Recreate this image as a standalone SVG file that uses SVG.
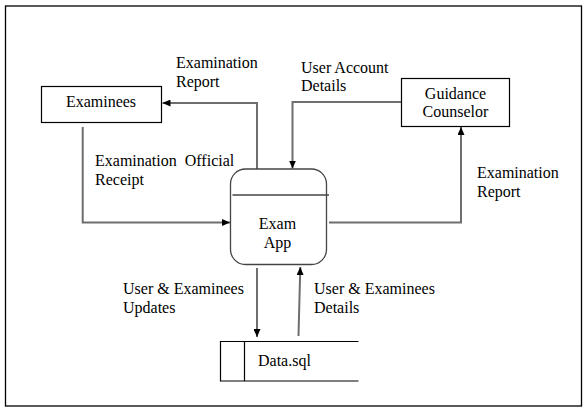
<svg xmlns="http://www.w3.org/2000/svg" width="587" height="411" viewBox="0 0 587 411">
<style>
.t{font-size:16px;fill:#000;white-space:pre}
.box{fill:#fff;stroke:#000;stroke-width:1.2}
.con{fill:none;stroke:#6e6e6e;stroke-width:2}
.mid{text-anchor:middle}
</style>
<defs>
<marker id="ahl" viewBox="0 0 8 8" refX="8" refY="4" markerWidth="8" markerHeight="7" orient="auto" markerUnits="userSpaceOnUse" preserveAspectRatio="none">
<path d="M0,0 L8,4 L0,8 z" fill="#000"/>
</marker>
</defs>
<rect x="5.5" y="6" width="576" height="400" fill="#fff" stroke="#000" stroke-width="1.3"/>
<g font-family="'Liberation Serif', 'Times New Roman', 'DejaVu Serif', serif">
<g id="connectors">
<path class="con" d="M257,169 V103 H162.5" marker-end="url(#ahl)"/>
<path class="con" d="M401,102 H292.5 V168.5" marker-end="url(#ahl)"/>
<path class="con" d="M329,222.5 H461 V127" marker-end="url(#ahl)"/>
<path class="con" d="M82.7,127 V222.5 H230" marker-end="url(#ahl)"/>
<path class="con" d="M257,268 V337" marker-end="url(#ahl)"/>
<path class="con" d="M298.5,336 L300.3,267" marker-end="url(#ahl)"/>
<text class="t" x="176" y="68">Examination</text>
<text class="t" x="176" y="87">Report</text>
<text class="t" x="301" y="73">User Account</text>
<text class="t" x="301" y="91">Details</text>
<text class="t" x="477" y="178">Examination</text>
<text class="t" x="477" y="197">Report</text>
<text class="t" x="95" y="166">Examination  Official</text>
<text class="t" x="95" y="185">Receipt</text>
<text class="t" x="123" y="294">User &amp; Examinees</text>
<text class="t" x="123" y="313">Updates</text>
<text class="t" x="314" y="294">User &amp; Examinees</text>
<text class="t" x="314" y="313">Details</text>
</g>
<g id="examinees">
<rect class="box" x="41.5" y="86.5" width="120" height="36"/>
<text class="t mid" x="101" y="107">Examinees</text>
</g>
<g id="guidance-counselor">
<rect class="box" x="401.5" y="78.5" width="108" height="48"/>
<text class="t mid" x="455.5" y="99">Guidance</text>
<text class="t mid" x="455.5" y="117">Counselor</text>
</g>
<g id="exam-app">
<rect x="230.5" y="169" width="96" height="95.5" rx="15" ry="15" fill="#fff" stroke="#444" stroke-width="1.3"/>
<line x1="232.5" y1="195" x2="329" y2="195" stroke="#444" stroke-width="1.3"/>
<text class="t mid" x="277.5" y="229">Exam</text>
<text class="t mid" x="277.5" y="248">App</text>
</g>
<g id="data-sql">
<path d="M358.5,341.5 H220.5 V381 H358.5 M244.5,341.5 V381" fill="none" stroke="#000" stroke-width="1.2"/>
<text class="t" x="258" y="366">Data.sql</text>
</g>
</g>
</svg>
